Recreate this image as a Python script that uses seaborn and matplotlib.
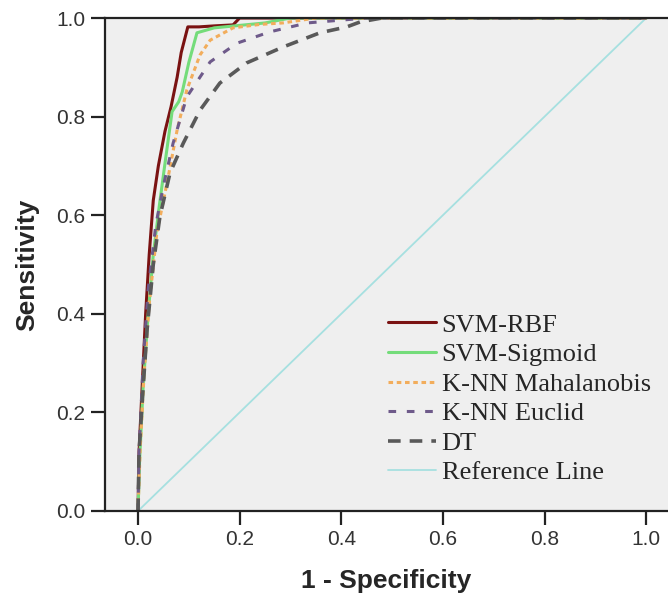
import numpy as np
import pandas as pd
import matplotlib
matplotlib.use("Agg")
import matplotlib.pyplot as plt
import seaborn as sns

# ---- data ----
rbf_x = [0, 0.002, 0.008, 0.015, 0.022, 0.030, 0.040, 0.053, 0.065, 0.077, 0.085, 0.098, 0.12, 0.15, 0.187, 0.20, 1.0]
rbf_y = [0, 0.12, 0.25, 0.40, 0.52, 0.63, 0.70, 0.77, 0.82, 0.88, 0.93, 0.982, 0.982, 0.984, 0.986, 1.0, 1.0]

sig_x = [0, 0.003, 0.010, 0.020, 0.030, 0.042, 0.055, 0.067, 0.080, 0.087, 0.100, 0.116, 0.15, 0.20, 0.25, 0.30, 1.0]
sig_y = [0, 0.10, 0.25, 0.40, 0.52, 0.62, 0.72, 0.81, 0.83, 0.85, 0.91, 0.97, 0.98, 0.985, 0.99, 1.0, 1.0]

mah_x = [0, 0.004, 0.012, 0.022, 0.037, 0.057, 0.077, 0.096, 0.122, 0.142, 0.187, 0.24, 0.285, 0.35, 1.0]
mah_y = [0, 0.12, 0.28, 0.42, 0.564, 0.665, 0.773, 0.854, 0.925, 0.955, 0.98, 0.987, 0.99, 1.0, 1.0]

euc_x = [0, 0.002, 0.010, 0.020, 0.035, 0.050, 0.069, 0.096, 0.142, 0.167, 0.195, 0.26, 0.333, 0.45, 1.0]
euc_y = [0, 0.12, 0.30, 0.45, 0.58, 0.66, 0.746, 0.84, 0.911, 0.929, 0.949, 0.972, 0.99, 1.0, 1.0]

dt_x = [0, 0.002, 0.010, 0.018, 0.030, 0.043, 0.063, 0.089, 0.122, 0.161, 0.214, 0.285, 0.358, 0.411, 0.437, 0.48, 1.0]
dt_y = [0, 0.12, 0.25, 0.37, 0.50, 0.597, 0.686, 0.746, 0.813, 0.868, 0.909, 0.941, 0.97, 0.982, 0.992, 1.0, 1.0]

ref_x = [0, 1]
ref_y = [0, 1]

labels = ["SVM-RBF", "SVM-Sigmoid", "K-NN Mahalanobis", "K-NN Euclid", "DT", "Reference Line"]
ticks = [0.0, 0.2, 0.4, 0.6, 0.8, 1.0]
tick_labels = ["0.0", "0.2", "0.4", "0.6", "0.8", "1.0"]

series = [
    (rbf_x, rbf_y, dict(color="#7a1212", ls="-", lw=2.2)),
    (sig_x, sig_y, dict(color="#74dc7a", ls="-", lw=2.2)),
    (mah_x, mah_y, dict(color="#f2ad5c", ls=(0, (1.5, 1.2)), lw=2.2)),
    (euc_x, euc_y, dict(color="#6e5a8a", ls=(0, (2.5, 3.5)), lw=2.2)),
    (dt_x, dt_y, dict(color="#595959", ls=(0, (3.5, 2.5)), lw=2.6)),
    (ref_x, ref_y, dict(color="#a6e0e0", ls="-", lw=1.3)),
]

sns.set_style("white")
fig = plt.figure(figsize=(6.68, 5.99), dpi=100)
ax = fig.add_axes([105/668, 1 - 511/599, 1 - 105/668, (511 - 18)/599])
ax.set_facecolor("#efefef")

order = [5, 0, 1, 2, 3, 4]
for i in order:
    xs, ys, st = series[i]
    df = pd.DataFrame({"x": xs, "y": ys})
    sns.lineplot(data=df, x="x", y="y", ax=ax, sort=False, estimator=None,
                 color=st["color"], linestyle=st["ls"], linewidth=st["lw"],
                 label=labels[i])

ax.set_xlim(-0.065, 1.043)
ax.set_ylim(0, 1.0)
ax.set_xticks(ticks)
ax.set_xticklabels(tick_labels)
ax.set_yticks(ticks)
ax.set_yticklabels(tick_labels)
ax.tick_params(axis="both", direction="out", length=10, width=1.6, color="#222222",
               labelsize=15, labelcolor="#333333", pad=4,
               bottom=True, left=True, top=False, right=False)
for s in ["left", "bottom", "top"]:
    ax.spines[s].set_visible(True)
    ax.spines[s].set_color("#222222")
    ax.spines[s].set_linewidth(1.6)
ax.spines["right"].set_visible(False)

ax.set_xlabel("1 - Specificity", fontsize=19, fontweight="bold", family="Liberation Sans", labelpad=14)
ax.set_ylabel("Sensitivity", fontsize=19, fontweight="bold", family="Liberation Sans", labelpad=12)
for t in ax.get_xticklabels() + ax.get_yticklabels():
    t.set_family("Liberation Sans")

handles, labs = ax.get_legend_handles_labels()
hmap = dict(zip(labs, handles))
leg = ax.legend([hmap[l] for l in labels], labels, loc="upper left",
                bbox_to_anchor=(375/668, 1 - 300/599), bbox_transform=fig.transFigure,
                frameon=False, prop={"family": "Liberation Serif", "size": 19},
                handlelength=1.8, handletextpad=0.22, labelspacing=0.23, borderpad=0)

fig.savefig("out.png", dpi=100, facecolor="white")
